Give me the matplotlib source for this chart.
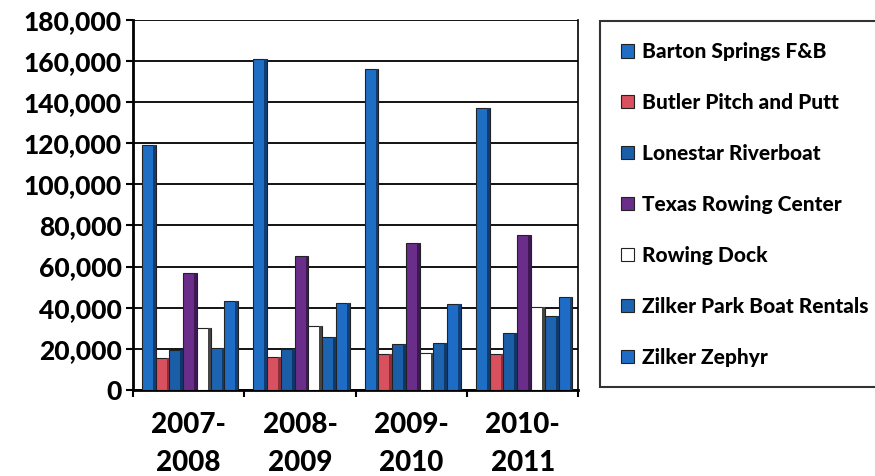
from matplotlib import pyplot as plt
import numpy as np

seasons = ['2007-\n2008', '2008-\n2009', '2009-\n2010', '2010-\n2011']
venues = ['Barton Springs F&B', 'Butler Pitch and Putt', 'Lonestar Riverboat',
          'Texas Rowing Center', 'Rowing Dock', 'Zilker Park Boat Rentals',
          'Zilker Zephyr']
barton = [119000, 161000, 156000, 137000]
butler = [15500, 16000, 17500, 17500]
lonestar = [19500, 20000, 22500, 27500]
texas = [57000, 65000, 71500, 75500]
rowing_dock = [30000, 31000, 18000, 40500]
zilker_park = [20500, 25500, 23000, 36000]
zephyr = [43000, 42500, 42000, 45000]
colors = ['#1e6ec4', '#d9505f', '#1a5ea8', '#6a2d8a', '#ffffff', '#1c63b0', '#1f6cc6']
shades = ['#0f3d73', '#8a2f3a', '#0e3766', '#3d1852', '#444444', '#0f3a6a', '#113f78']

series = [barton, butler, lonestar, texas, rowing_dock, zilker_park, zephyr]

plt.rcParams['font.family'] = ['Lato', 'DejaVu Sans']
plt.rcParams['font.weight'] = 900

fig = plt.figure(figsize=(8.75, 4.76), dpi=100)
ax = fig.add_axes([0.152, 0.181, 0.509, 0.777])

x = np.arange(len(seasons))
w = 0.1236
start = 0.08
for i, vals in enumerate(series):
    left = x + start + i * w
    ax.bar(left, vals, width=w, align='edge', color=colors[i],
           edgecolor='#222222', linewidth=0.8, zorder=3, label=venues[i])
    # darker side face for the 3D look
    ax.bar(left + w * 0.8, vals, width=w * 0.2, align='edge', color=shades[i],
           linewidth=0, zorder=4)

ax.set_xlim(0, 4)
ax.set_ylim(0, 180000)
ax.set_yticks(np.arange(0, 180001, 20000))
ax.set_yticklabels(['{:,}'.format(v) for v in range(0, 180001, 20000)],
                   fontsize=19, fontweight=900)
ax.set_xticks(np.arange(0, 5))
ax.set_xticklabels([])
ax.set_xticks(x + 0.5, minor=True)
ax.set_xticklabels(seasons, minor=True, fontsize=20, fontweight=900,
                   linespacing=1.55)
ax.tick_params(axis='x', which='minor', length=0, pad=16)
ax.tick_params(axis='x', which='major', length=5, width=1.5, direction='out')
ax.tick_params(axis='y', length=5, width=1.5, pad=3)
ax.grid(axis='y', color='black', linewidth=1.3, zorder=0)
for s in ['left', 'bottom']:
    ax.spines[s].set_linewidth(2)
ax.spines['right'].set_linewidth(1.2)
ax.spines['top'].set_visible(False)

leg = fig.legend(loc='upper left', bbox_to_anchor=(0.686, 0.955),
                 fontsize=15, frameon=True, fancybox=False,
                 edgecolor='black', handlelength=0.6, handleheight=0.6,
                 handletextpad=0.4, labelspacing=1.53, borderpad=1.0,
                 borderaxespad=0)
leg.get_frame().set_linewidth(1.5)
for t in leg.get_texts():
    t.set_fontweight(900)

fig.savefig('out.png', dpi=100)
